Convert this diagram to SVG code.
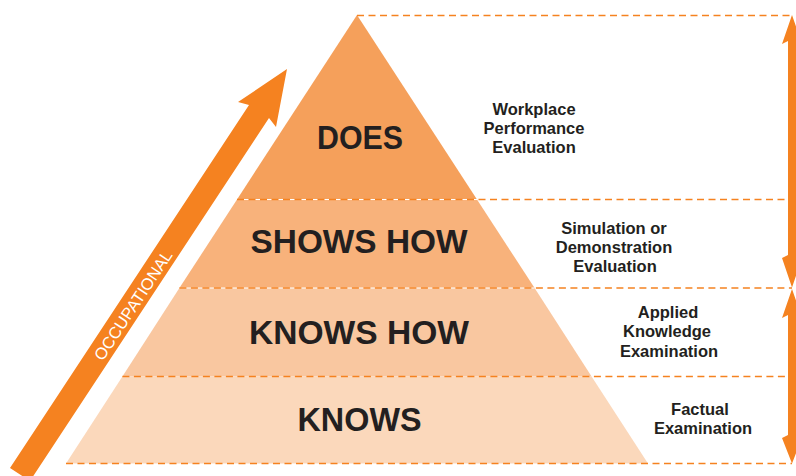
<svg xmlns="http://www.w3.org/2000/svg" width="796" height="476" viewBox="0 0 796 476">
  <style>
    .big { font-family: "Liberation Sans", Arial, sans-serif; font-weight: bold; font-size: 34px; fill: #231F20; text-anchor: middle; }
    .lbl { font-family: "Liberation Sans", Arial, sans-serif; font-weight: bold; font-size: 16.5px; fill: #231F20; text-anchor: middle; }
    .dash { stroke: #F58220; stroke-width: 1.5; stroke-dasharray: 7 4.5; fill: none; }
    .under { stroke: #FFFFFF; stroke-width: 1.2; fill: none; }
    .orange { fill: #F58220; }
  </style>
  <rect width="796" height="476" fill="#FFFFFF"/>

  <g id="level-does">
    <polygon points="357,15 477,199.5 237,199.5" fill="#F5A05B"/>
    <text class="big" x="360" y="149" textLength="86" lengthAdjust="spacingAndGlyphs">DOES</text>
  </g>
  <g id="level-shows-how">
    <polygon points="237,199.5 477,199.5 534.6,288 179.4,288" fill="#F8B27B"/>
    <text class="big" x="359" y="253" textLength="217" lengthAdjust="spacingAndGlyphs">SHOWS HOW</text>
  </g>
  <g id="level-knows-how">
    <polygon points="179.4,288 534.6,288 591.6,376.5 122.4,376.5" fill="#F9C7A0"/>
    <text class="big" x="359" y="344" textLength="220" lengthAdjust="spacingAndGlyphs">KNOWS HOW</text>
  </g>
  <g id="level-knows">
    <polygon points="122.4,376.5 591.6,376.5 648,463.5 66,463.5" fill="#FBD8BB"/>
    <text class="big" x="359.5" y="431" textLength="124" lengthAdjust="spacingAndGlyphs">KNOWS</text>
  </g>

  <g id="connectors">
    <line class="under" x1="237" y1="199.5" x2="477" y2="199.5"/>
    <line class="under" x1="179.4" y1="288" x2="534.6" y2="288"/>
    <line class="dash" x1="357" y1="15.5" x2="792" y2="15.5"/>
    <line class="dash" x1="237" y1="199.5" x2="790" y2="199.5"/>
    <line class="dash" x1="179.4" y1="288" x2="792" y2="288"/>
    <line class="dash" x1="122.4" y1="376.5" x2="790" y2="376.5"/>
    <line class="dash" x1="66" y1="463.5" x2="792" y2="463.5"/>
    <polygon class="orange" points="792,15 802,44 796,41 796,255 802,258 792,287.5 782,258 788,255 788,41 782,44"/>
    <polygon class="orange" points="792,289 802,318 796,315 796,435 802,438 792,463.5 782,438 788,435 788,315 782,318"/>
  </g>

  <g id="occupational-arrow">
    <polygon class="orange" points="10,468 30,481 269,118 276,127 287,69 238,102 249,105"/>
    <text transform="translate(133,305) rotate(-56.6)" x="0" y="6" font-family="'Liberation Sans', Arial, sans-serif" font-size="16.5" fill="#FFFFFF" text-anchor="middle">OCCUPATIONAL</text>
  </g>

  <g id="label-does">
    <text class="lbl"><tspan x="534" y="115">Workplace</tspan><tspan x="534" y="134.3">Performance</tspan><tspan x="534" y="153.3">Evaluation</tspan></text>
  </g>
  <g id="label-shows-how">
    <text class="lbl"><tspan x="614" y="234">Simulation or</tspan><tspan x="614" y="252.7">Demonstration</tspan><tspan x="615" y="271.7">Evaluation</tspan></text>
  </g>
  <g id="label-knows-how">
    <text class="lbl"><tspan x="668" y="318.3">Applied</tspan><tspan x="667" y="337">Knowledge</tspan><tspan x="669" y="356.7">Examination</tspan></text>
  </g>
  <g id="label-knows">
    <text class="lbl"><tspan x="700" y="415">Factual</tspan><tspan x="703" y="433.5">Examination</tspan></text>
  </g>
</svg>
